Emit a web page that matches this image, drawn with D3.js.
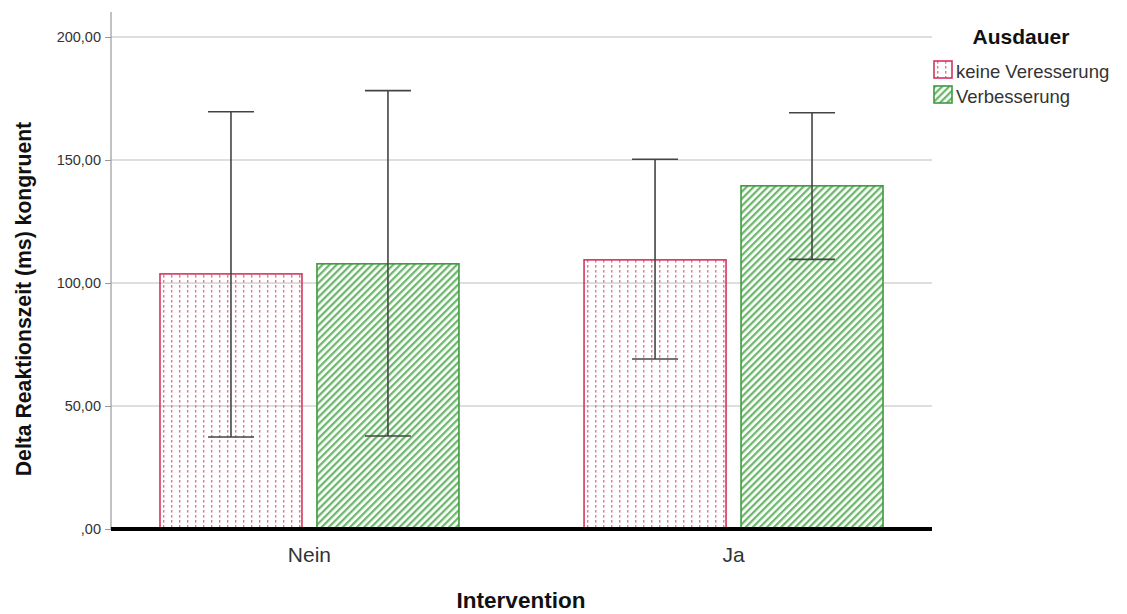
<!DOCTYPE html>
<html>
<head>
<meta charset="utf-8">
<script src="https://cdn.jsdelivr.net/npm/d3@7"></script>
<style>
  body { margin: 0; background: #fff; }
  svg { font-family: Arial, "Liberation Sans", sans-serif; }
</style>
</head>
<body>
<svg id="chart" width="1127" height="614"></svg>
<script>
// data
var categories = ["Nein", "Ja"];
var groups = ["keine Veresserung", "Verbesserung"];
var means = [[103.7, 107.8], [109.4, 139.5]];
var lower = [[37.4, 37.8], [69.1, 109.6]];
var upper = [[169.6, 178.2], [150.3, 169.2]];
var yTicks = [0, 50, 100, 150, 200];

var svg = d3.select("#chart");
var plotLeft = 111, plotRight = 932, plotTop = 12, plotBottom = 529;

var y = d3.scaleLinear().domain([0, 210]).range([plotBottom, plotBottom - 2.46 * 210]);
var x = d3.scaleBand().domain(categories).range([plotLeft, plotRight]).paddingInner(0.295).paddingOuter(0.1155);
var x2 = d3.scaleBand().domain(groups).range([0, x.bandwidth()]).paddingInner(0.0955);

var pink = "#d4345f";
var green = "#3f9a3f";

// patterns
var defs = svg.append("defs");
var pDots = defs.append("pattern").attr("id", "dots")
    .attr("patternUnits", "userSpaceOnUse").attr("width", 8).attr("height", 5);
pDots.append("rect").attr("x", 3).attr("y", 0).attr("width", 1.4).attr("height", 2.6)
    .attr("fill", "#e07592");
var pHatch = defs.append("pattern").attr("id", "hatch")
    .attr("patternUnits", "userSpaceOnUse").attr("width", 5).attr("height", 5)
    .attr("patternTransform", "rotate(45)");
pHatch.append("rect").attr("width", 5).attr("height", 5).attr("fill", "#fff");
pHatch.append("rect").attr("x", 0).attr("width", 2.3).attr("height", 5).attr("fill", "#6db86d");

// grid
svg.append("g").selectAll("line").data(yTicks.filter(d => d > 0)).enter().append("line")
    .attr("x1", plotLeft).attr("x2", plotRight)
    .attr("y1", d => y(d)).attr("y2", d => y(d))
    .attr("stroke", "#bdbdbd").attr("stroke-width", 1.2);

// y axis
svg.append("line").attr("x1", plotLeft).attr("x2", plotLeft).attr("y1", plotTop).attr("y2", plotBottom)
    .attr("stroke", "#999").attr("stroke-width", 1.2);
var yAxis = d3.axisLeft(y).tickValues(yTicks).tickSize(6)
    .tickFormat(d => d3.format(".2f")(d).replace(/^0/, "").replace(".", ","));
var ya = svg.append("g").attr("transform", `translate(${plotLeft},0)`).call(yAxis);
ya.select(".domain").remove();
ya.selectAll(".tick line").attr("stroke", "#999").attr("x2", -6);
ya.selectAll(".tick text").attr("font-size", 14.5).attr("fill", "#333").attr("x", -10)
    .attr("font-family", "Arial, 'Liberation Sans', sans-serif");

// bars
var rows = [];
categories.forEach((c, i) => groups.forEach((g, j) => {
    rows.push({ c: c, g: g, j: j, m: means[i][j], lo: lower[i][j], hi: upper[i][j] });
}));

var bar = svg.append("g").selectAll("g").data(rows).enter().append("g")
    .attr("transform", d => `translate(${x(d.c) + x2(d.g)},0)`);
bar.append("rect")
    .attr("x", 0).attr("width", x2.bandwidth())
    .attr("y", d => y(d.m)).attr("height", d => y(0) - y(d.m))
    .attr("fill", d => d.j == 0 ? "url(#dots)" : "url(#hatch)")
    .attr("stroke", d => d.j == 0 ? pink : green).attr("stroke-width", 1.6);

// error bars
var cx = x2.bandwidth() / 2, cap = 23;
bar.append("line").attr("x1", cx).attr("x2", cx)
    .attr("y1", d => y(d.hi)).attr("y2", d => y(d.lo))
    .attr("stroke", "#444").attr("stroke-width", 1.6);
bar.append("line").attr("x1", cx - cap).attr("x2", cx + cap)
    .attr("y1", d => y(d.hi)).attr("y2", d => y(d.hi))
    .attr("stroke", "#444").attr("stroke-width", 1.6);
bar.append("line").attr("x1", cx - cap).attr("x2", cx + cap)
    .attr("y1", d => y(d.lo)).attr("y2", d => y(d.lo))
    .attr("stroke", "#444").attr("stroke-width", 1.6);

// baseline
svg.append("line").attr("x1", plotLeft).attr("x2", plotRight).attr("y1", plotBottom).attr("y2", plotBottom)
    .attr("stroke", "#000").attr("stroke-width", 4);

// x labels
svg.append("g").selectAll("text").data(categories).enter().append("text")
    .attr("x", d => x(d) + x.bandwidth() / 2).attr("y", 562)
    .attr("text-anchor", "middle").attr("font-size", 21).attr("fill", "#333")
    .text(d => d);

svg.append("text").attr("x", 521).attr("y", 608).attr("text-anchor", "middle")
    .attr("font-size", 22.5).attr("font-weight", "bold").attr("fill", "#111")
    .text("Intervention");

svg.append("text").attr("transform", `translate(31,299) rotate(-90)`)
    .attr("text-anchor", "middle").attr("font-size", 21.2).attr("font-weight", "bold")
    .attr("fill", "#111")
    .text("Delta Reaktionszeit (ms) kongruent");

// legend
var lg = svg.append("g");
lg.append("text").attr("x", 1021).attr("y", 44).attr("text-anchor", "middle")
    .attr("font-size", 21).attr("font-weight", "bold").attr("fill", "#111").text("Ausdauer");
var item = lg.selectAll("g").data(groups).enter().append("g")
    .attr("transform", (d, i) => `translate(934,${61 + i * 25})`);
item.append("rect").attr("width", 18).attr("height", 17)
    .attr("fill", (d, i) => i == 0 ? "url(#dots)" : "url(#hatch)")
    .attr("stroke", (d, i) => i == 0 ? pink : green).attr("stroke-width", 1.6);
item.append("text").attr("x", 22).attr("y", 17).attr("font-size", 18.5).attr("fill", "#333")
    .text(d => d);
</script>
</body>
</html>
